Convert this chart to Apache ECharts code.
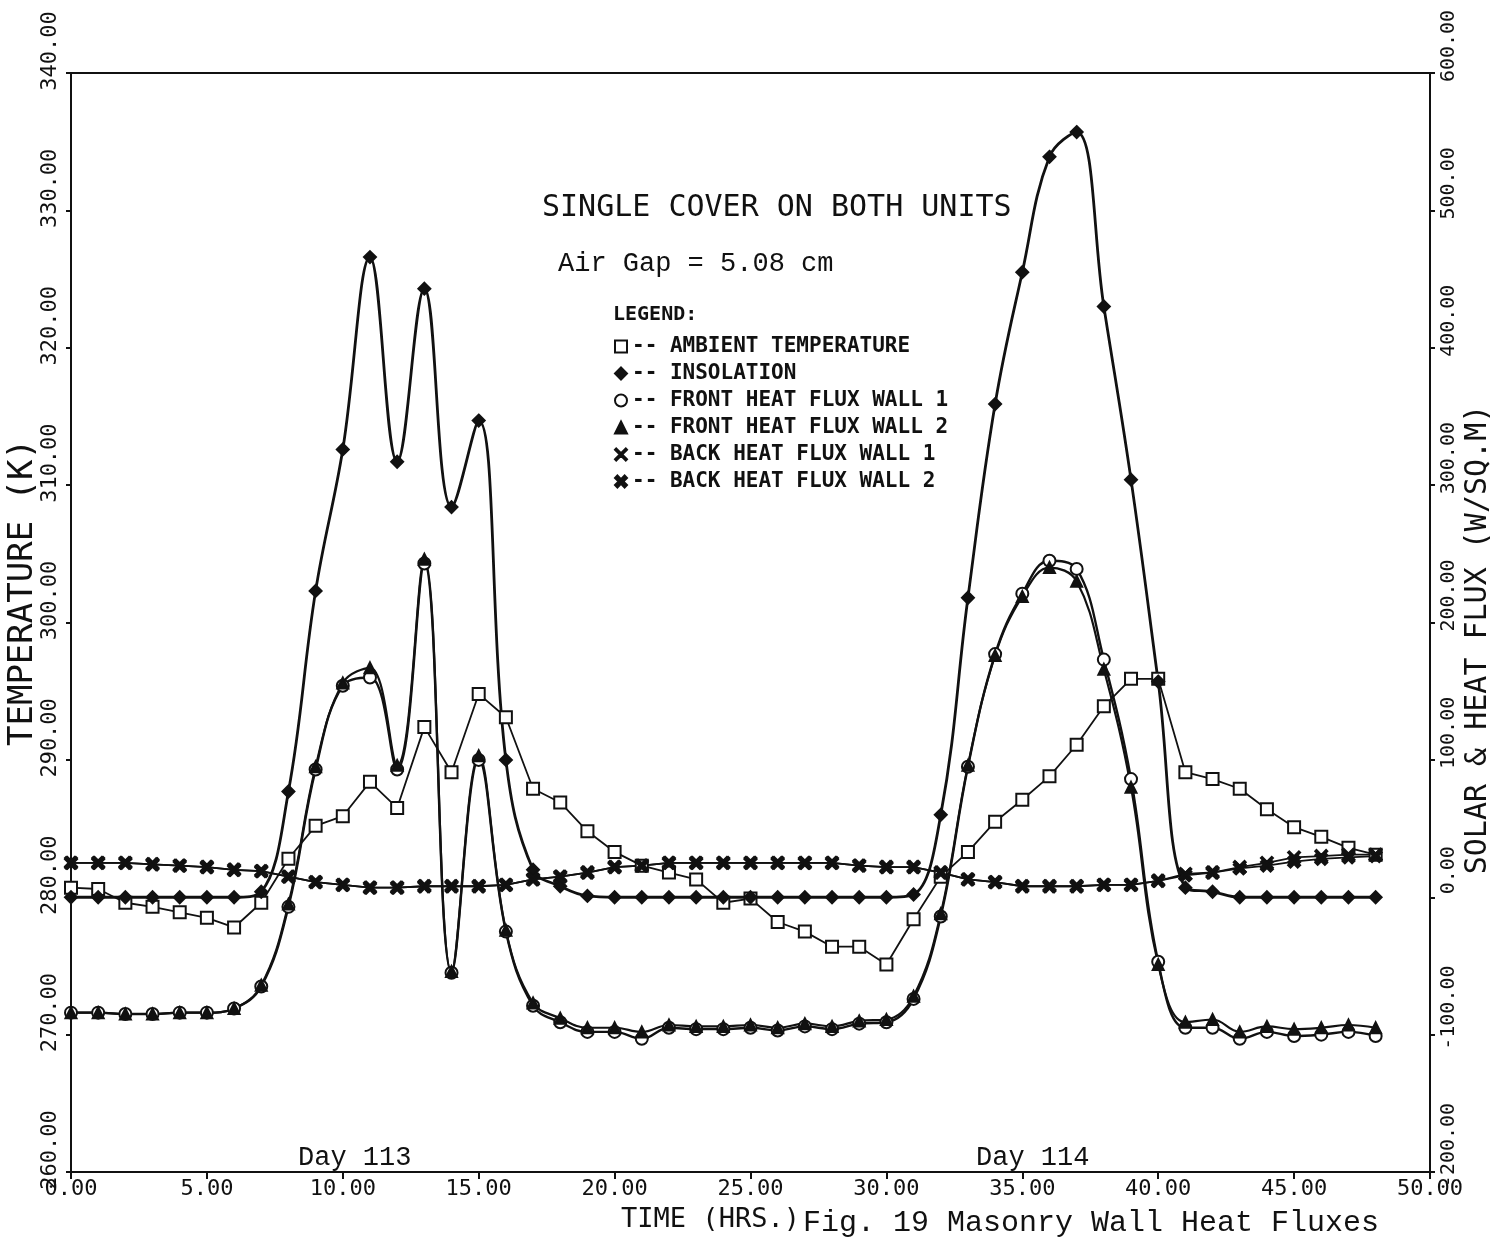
<!DOCTYPE html>
<html>
<head>
<meta charset="utf-8">
<title>Fig. 19 Masonry Wall Heat Fluxes</title>
<script src="https://cdn.jsdelivr.net/npm/echarts@6.0.0/dist/echarts.min.js"></script>
<style>
  html, body { margin: 0; padding: 0; background: #fff; }
  #chart { width: 1492px; height: 1245px; }
</style>
</head>
<body>
<div id="chart"></div>
<script>
// time in hours (two days, hourly readings)
const hours = [0, 1, 2, 3, 4, 5, 6, 7, 8, 9, 10, 11, 12, 13, 14, 15, 16, 17, 18, 19, 20, 21, 22, 23, 24,
  25, 26, 27, 28, 29, 30, 31, 32, 33, 34, 35, 36, 37, 38, 39, 40, 41, 42, 43, 44, 45, 46, 47, 48];

// left axis, K
const ambientTemp = [280.7, 280.6, 279.6, 279.3, 278.9, 278.5, 277.8, 279.6, 282.8, 285.2, 285.9, 288.4, 286.5,
  292.4, 289.1, 294.8, 293.1, 287.9, 286.9, 284.8, 283.3, 282.3, 281.8, 281.3, 279.6, 279.9, 278.2, 277.5,
  276.4, 276.4, 275.1, 278.4, 281.5, 283.3, 285.5, 287.1, 288.8, 291.1, 293.9, 295.9, 295.9, 289.1, 288.6,
  287.9, 286.4, 285.1, 284.4, 283.6, 283.1];

// right axis, W/sq.m
const insolation = [0, 0, 0, 0, 0, 0, 0, 4, 77, 223, 326, 466, 317, 443, 284, 347, 100, 20, 8, 1, 0, 0, 0, 0, 0,
  0, 0, 0, 0, 0, 0, 2, 60, 218, 359, 455, 539, 557, 430, 304, 157, 7, 4, 0, 0, 0, 0, 0, 0];

const frontWall1 = [-84, -84, -85, -85, -84, -84, -81, -65, -7, 93, 154, 160, 93, 243, -55, 100, -25, -79, -91,
  -98, -98, -103, -95, -96, -96, -95, -97, -94, -96, -92, -91, -74, -14, 95, 177, 221, 245, 239, 173, 86, -47,
  -95, -95, -103, -98, -101, -100, -98, -101];

const frontWall2 = [-84, -84, -85, -85, -84, -84, -81, -64, -5, 95, 156, 167, 96, 246, -54, 103, -24, -77, -88,
  -95, -95, -98, -93, -94, -94, -93, -95, -92, -94, -90, -89, -72, -12, 96, 176, 219, 240, 230, 166, 80, -49,
  -91, -89, -98, -94, -96, -95, -93, -95];

const backWall1 = [25, 25, 25, 24, 23, 22, 20, 19, 15, 11, 9, 7, 7, 8, 8, 8, 9, 13, 15, 18, 22, 23, 25, 25, 25,
  25, 25, 25, 25, 23, 22, 22, 18, 13, 11, 8, 8, 8, 9, 9, 12, 17, 18, 22, 25, 29, 30, 31, 31];

const backWall2 = [25, 25, 25, 24, 23, 22, 20, 19, 15, 11, 9, 7, 7, 8, 8, 8, 9, 13, 15, 18, 22, 23, 25, 25, 25,
  25, 25, 25, 25, 23, 22, 22, 18, 13, 11, 8, 8, 8, 9, 9, 12, 16, 18, 21, 23, 26, 28, 29, 30];

const seriesNames = ['AMBIENT TEMPERATURE', 'INSOLATION', 'FRONT HEAT FLUX WALL 1',
  'FRONT HEAT FLUX WALL 2', 'BACK HEAT FLUX WALL 1', 'BACK HEAT FLUX WALL 2'];

const crossThin = 'path://M1,0 L5,4 L9,0 L10,1 L6,5 L10,9 L9,10 L5,6 L1,10 L0,9 L4,5 L0,1 Z';
const crossBold = 'path://M2,0 L5,3 L8,0 L10,2 L7,5 L10,8 L8,10 L5,7 L2,10 L0,8 L3,5 L0,2 Z';
const symbols = ['emptyRect', 'diamond', 'emptyCircle', 'triangle', crossThin, crossBold];

const plotter = 'DejaVu Sans Mono';

function pairs(values) {
  return hours.map((h, i) => [h, values[i]]);
}

function makeSeries(idx, values, axis, smooth, size, width) {
  return {
    name: seriesNames[idx],
    type: 'line',
    yAxisIndex: axis,
    data: pairs(values),
    symbol: symbols[idx],
    symbolSize: size,
    smooth: smooth,
    animation: false,
    lineStyle: { color: '#111', width: width },
    itemStyle: { color: '#111', borderColor: '#111', borderWidth: 2 }
  };
}

const chart = echarts.init(document.getElementById('chart'));

const option = {
  backgroundColor: '#fff',
  animation: false,
  grid: {
    left: 71,
    right: 62,
    top: 73,
    bottom: 73,
    show: true,
    borderColor: '#111',
    borderWidth: 2,
    containLabel: false,
    outerBoundsMode: 'none'
  },
  title: {
    text: 'SINGLE COVER ON BOTH UNITS',
    left: 537,
    top: 188,
    textStyle: { fontFamily: plotter, fontSize: 30, fontWeight: 'normal', color: '#111' }
  },
  legend: {
    orient: 'vertical',
    left: 609,
    top: 331,
    itemWidth: 12,
    itemHeight: 12,
    itemGap: 6,
    selectedMode: false,
    data: seriesNames.map((n, i) => ({ name: n, icon: symbols[i] })),
    formatter: (name) => '-- ' + name,
    textStyle: { fontFamily: plotter, fontSize: 21, fontWeight: 'bold', color: '#111' }
  },
  xAxis: {
    type: 'value',
    min: 0,
    max: 50,
    interval: 5,
    name: 'TIME (HRS.)',
    nameLocation: 'middle',
    nameGap: 34,
    nameMoveOverlap: false,
    nameTextStyle: { fontFamily: plotter, fontSize: 27, color: '#111', padding: [0, 80, 0, 0] },
    axisLine: { onZero: false, lineStyle: { color: '#111', width: 2 } },
    axisTick: { show: true, inside: false, length: 7, lineStyle: { color: '#111', width: 2 } },
    axisLabel: {
      margin: 6,
      fontFamily: plotter,
      fontSize: 22,
      color: '#111',
      formatter: (v) => v.toFixed(2)
    },
    splitLine: { show: false }
  },
  yAxis: [
    {
      type: 'value',
      position: 'left',
      min: 260,
      max: 340,
      interval: 10,
      name: 'TEMPERATURE (K)',
      nameLocation: 'middle',
      nameRotate: 90,
      nameGap: 31,
      nameMoveOverlap: false,
      nameTextStyle: { fontFamily: plotter, fontSize: 34, color: '#111', padding: [0, 0, 0, 60] },
      axisLine: { show: true, onZero: false, lineStyle: { color: '#111', width: 2 } },
      axisTick: { show: true, length: 5, lineStyle: { color: '#111', width: 2 } },
      axisLabel: {
        rotate: 90,
        margin: 10,
        fontFamily: plotter,
        fontSize: 22,
        color: '#111',
        padding: [0, 0, 0, 44],
        formatter: (v) => v.toFixed(2)
      },
      splitLine: { show: false }
    },
    {
      type: 'value',
      position: 'right',
      min: -200,
      max: 600,
      interval: 100,
      name: 'SOLAR & HEAT FLUX (W/SQ.M)',
      nameLocation: 'middle',
      nameRotate: 90,
      nameGap: 33,
      nameMoveOverlap: false,
      nameTextStyle: { fontFamily: plotter, fontSize: 30, color: '#111', padding: [0, 34, 0, 0] },
      axisLine: { show: true, onZero: false, lineStyle: { color: '#111', width: 2 } },
      axisTick: { show: true, length: 5, lineStyle: { color: '#111', width: 2 } },
      axisLabel: {
        rotate: 90,
        margin: 9,
        fontFamily: plotter,
        fontSize: 20,
        color: '#111',
        padding: [0, 0, 0, 54],
        formatter: (v) => v.toFixed(2)
      },
      splitLine: { show: false }
    }
  ],
  graphic: [
    {
      type: 'text', left: 558, top: 250,
      style: { text: 'Air Gap = 5.08 cm', font: '27px "Liberation Mono"', fill: '#111' }
    },
    {
      type: 'text', left: 613, top: 305,
      style: { text: 'LEGEND:', font: 'bold 20px "DejaVu Sans Mono"', fill: '#111' }
    },
    {
      type: 'text', left: 298, top: 1144,
      style: { text: 'Day 113', font: '27px "Liberation Mono"', fill: '#111' }
    },
    {
      type: 'text', left: 976, top: 1144,
      style: { text: 'Day 114', font: '27px "Liberation Mono"', fill: '#111' }
    },
    {
      type: 'text', left: 803, top: 1208,
      style: { text: 'Fig. 19 Masonry Wall Heat Fluxes', font: '30px "Liberation Mono"', fill: '#111' }
    }
  ],
  series: [
    makeSeries(0, ambientTemp, 0, false, 12, 1.8),
    makeSeries(1, insolation, 1, 0.4, 12, 2.8),
    makeSeries(2, frontWall1, 1, 0.4, 12, 2.4),
    makeSeries(3, frontWall2, 1, 0.4, 11, 2.2),
    makeSeries(4, backWall1, 1, false, 12, 1.8),
    makeSeries(5, backWall2, 1, false, 12, 1.8)
  ]
};

chart.setOption(option);
window.addEventListener('resize', () => chart.resize());
</script>
</body>
</html>
